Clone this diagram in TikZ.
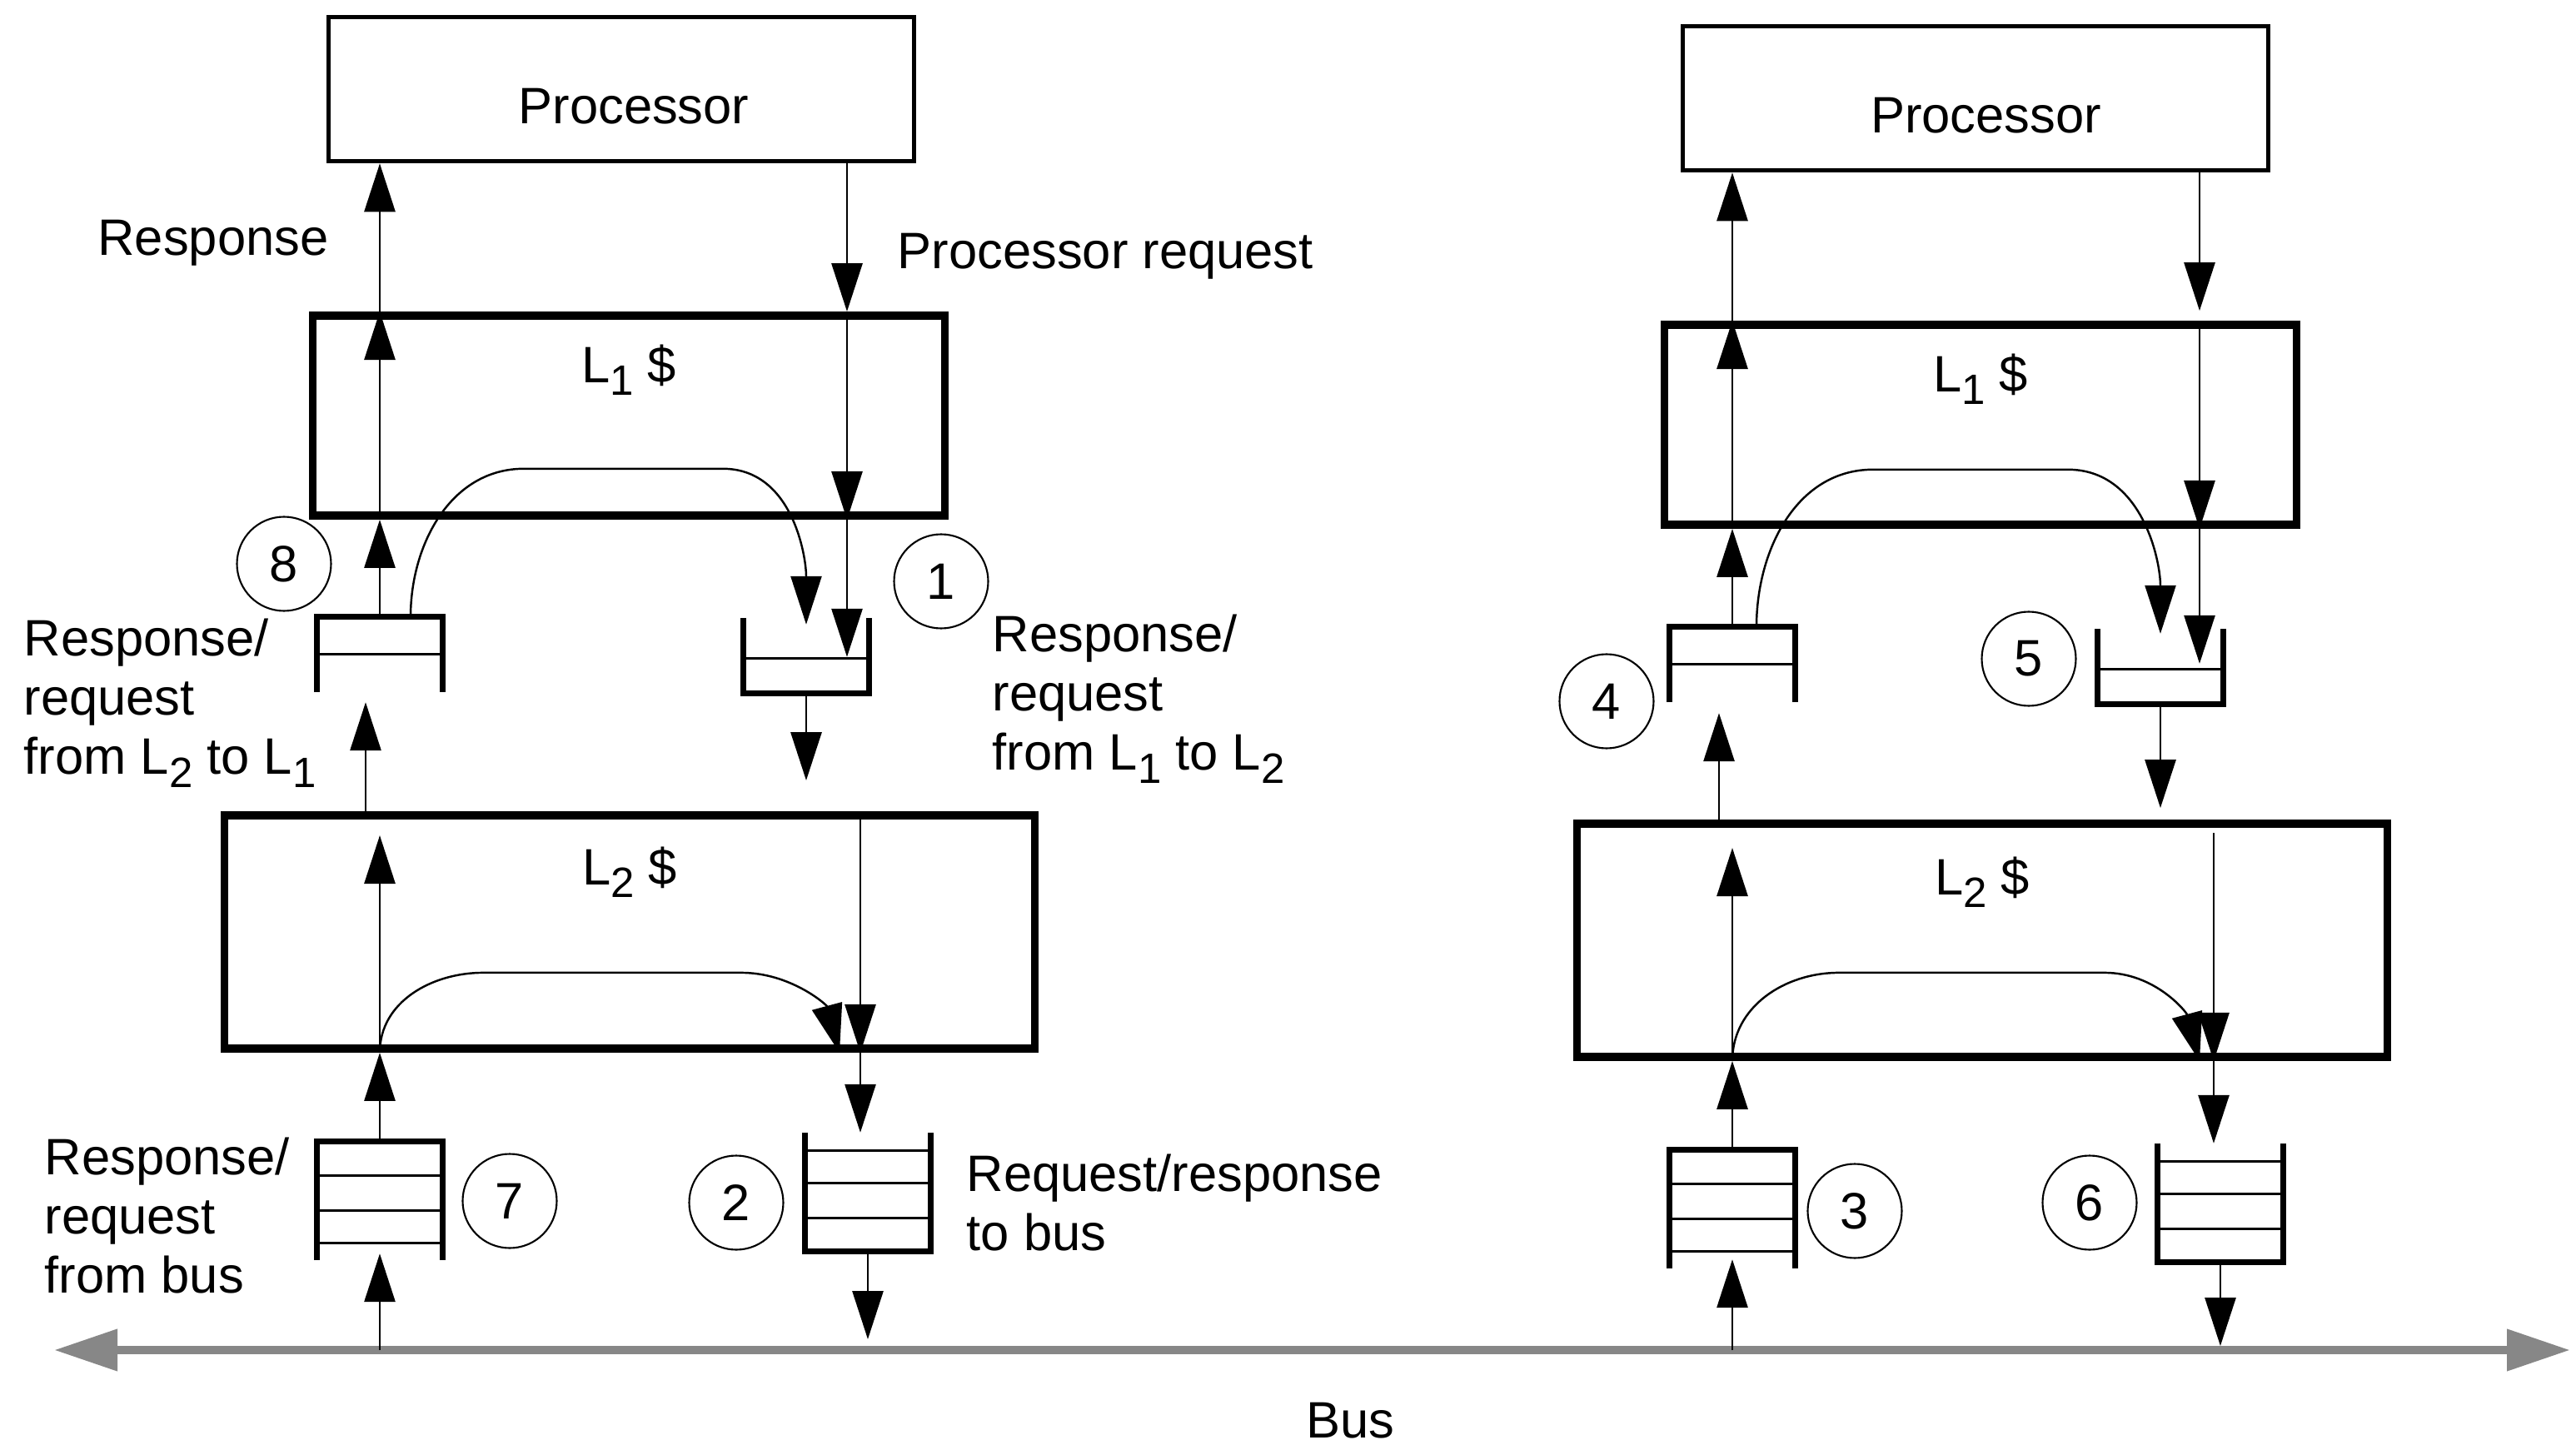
\documentclass[tikz,border=0pt]{standalone}
\usepackage{fontspec}
\setmainfont{Liberation Sans}
\usetikzlibrary{arrows.meta}
\newcommand{\lsub}[1]{\raisebox{-4.4pt}{\fontsize{14.5}{14.5}\selectfont #1}}

\begin{document}
\begin{tikzpicture}[
        font=\fontsize{17.5}{20.2}\selectfont,
        procbox/.style={draw, line width=1.6pt, minimum width=7.03cm, minimum height=1.73cm, text height=0.84cm, text depth=0pt},
        cachebox/.style={draw, line width=2.8pt, inner sep=0pt},
        queue/.style={minimum width=1.50cm, inner sep=0pt},
        slot1/.style={queue, minimum height=0.89cm},
        slot3/.style={queue, minimum height=1.41cm},
        qout/.style={line width=2pt},
        qin/.style={line width=0.9pt},
        num/.style={circle, draw, line width=0.6pt, minimum size=1.13cm, inner sep=0pt},
        txt/.style={inner sep=0pt, align=left},
        line/.style={line width=0.8pt},
        arr/.style={line, -{Triangle[length=5.8mm, width=3.7mm]}},
        carr/.style={line width=0.7pt, -{Triangle[length=5.8mm, width=3.7mm]}},
        busline/.style={line width=3pt, black!47, {Triangle[length=7.6mm, width=4.8mm]}-{Triangle[length=7.6mm, width=4.8mm]}}
    ]
        \useasboundingbox (0,0) rectangle (30.93,-17.35);

        % -- left node: processor and caches --
        \node[procbox] (proc1) at (7.46,-1.07) {\hspace*{0.3cm}Processor};
        \node[cachebox, minimum width=7.59cm, minimum height=2.40cm] (L1a) at (7.55,-4.99) {};
        \node (l1a) at ([yshift=-0.70cm]L1a.north) {L\lsub{1} \$};
        \node[cachebox, minimum width=9.73cm, minimum height=2.80cm] (L2a) at (7.56,-11.19) {};
        \node (l2a) at ([yshift=-0.73cm]L2a.north) {L\lsub{2} \$};

        % -- right node: processor and caches --
        \node[procbox] (proc2) at (23.72,-1.18) {\hspace*{0.25cm}Processor};
        \node[cachebox, minimum width=7.59cm, minimum height=2.40cm] (L1b) at (23.78,-5.10) {};
        \node (l1b) at ([yshift=-0.70cm]L1b.north) {L\lsub{1} \$};
        \node[cachebox, minimum width=9.73cm, minimum height=2.80cm] (L2b) at (23.80,-11.29) {};
        \node (l2b) at ([yshift=-0.75cm]L2b.north) {L\lsub{2} \$};

        % -- queues --
        \node[slot1] (q8) at (4.56,-7.86) {};
        \node[slot1] (q1) at (9.68,-7.87) {};
        \node[slot3] (q7) at (4.56,-14.42) {};
        \node[slot3] (q2) at (10.42,-14.31) {};
        \node[slot1] (q4) at (20.80,-7.98) {};
        \node[slot1] (q5) at (25.94,-8.00) {};
        \node[slot3] (q3) at (20.80,-14.52) {};
        \node[slot3] (q6) at (26.66,-14.44) {};

        % open at the bottom
        \foreach \q in {q8, q7, q4, q3}
            \draw[qout] (\q.south west) -- (\q.north west) -- (\q.north east) -- (\q.south east);
        % open at the top
        \foreach \q in {q1, q2, q5, q6}
            \draw[qout] (\q.north west) -- (\q.south west) -- (\q.south east) -- (\q.north east);
        % slots
        \foreach \q in {q8, q4}
            \draw[qin] ([yshift=-0.45cm]\q.north west) -- ([yshift=-0.45cm]\q.north east);
        \foreach \q in {q1, q5}
            \draw[qin] ([yshift=0.42cm]\q.south west) -- ([yshift=0.42cm]\q.south east);
        \foreach \q in {q7, q3}
            \foreach \dy in {0.41,0.83,1.22}
                \draw[qin] ([yshift=-\dy cm]\q.north west) -- ([yshift=-\dy cm]\q.north east);
        \foreach \q in {q2, q6}
            \foreach \dy in {0.40,0.82,1.21}
                \draw[qin] ([yshift=\dy cm]\q.south west) -- ([yshift=\dy cm]\q.south east);

        % -- step numbers --
        \node[num] (c8) at (3.41,-6.77)   {8};
        \node[num] (c1) at (11.30,-6.98)  {1};
        \node[num] (c7) at (6.12,-14.42)  {7};
        \node[num] (c2) at (8.84,-14.44)  {2};
        \node[num] (c4) at (19.29,-8.42)  {4};
        \node[num] (c5) at (24.36,-7.91)  {5};
        \node[num] (c3) at (22.27,-14.54) {3};
        \node[num] (c6) at (25.09,-14.44) {6};

        % -- labels --
        \node[txt] (resp) at (2.56,-2.92) {Response};
        \node[txt, anchor=west] (preq) at (10.77,-3.08) {Processor request};
        \node[txt, anchor=west] (t21) at (0.28,-8.44) {Response/\\request\\from L\lsub{2} to L\lsub{1}};
        \node[txt, anchor=west] (t12) at (11.91,-8.39) {Response/\\request\\from L\lsub{1} to L\lsub{2}};
        \node[txt, anchor=west] (tfb) at (0.53,-14.60) {Response/\\request\\from bus};
        \node[txt, anchor=west] (ttb) at (11.60,-14.44) {Request/response\\to bus};
        \node[txt] (bustxt) at (16.21,-17.06) {Bus};

        % -- bus --
        \coordinate (busL) at (0.65,-16.21);
        \coordinate (busR) at (30.86,-16.21);
        \draw[busline] (busL) -- (busR);

        % left: responses going up
        \draw[arr] (q8.north) -- (q8.north |- L1a.south);
        \draw[arr] (q8.north |- L1a.south) -- (q8.north |- L1a.north);
        \draw[arr] (q8.north |- L1a.north) -- (q8.north |- proc1.south);
        \draw[arr] ([xshift=-0.17cm]q8.south |- L2a.north) -- ([xshift=-0.17cm, yshift=-0.12cm]q8.south);
        \draw[arr] (q7.north |- L2a.south) -- ([yshift=-0.29cm]q7.north |- L2a.north);
        \draw[arr] (q7.north) -- (q7.north |- L2a.south);
        \draw[arr] (q7.south |- busL) -- ([yshift=0.08cm]q7.south);

        % left: requests going down
        \coordinate (dl) at ([xshift=0.49cm]q1.north);
        \draw[arr] (dl |- proc1.south) -- (dl |- L1a.north);
        \draw[arr] (dl |- L1a.north) -- (dl |- L1a.south);
        \draw[arr] (dl |- L1a.south) -- ([yshift=-0.47cm]dl);
        \draw[arr] (q1.south) -- ([yshift=0.37cm]q1.south |- L2a.north);
        \draw[arr] ([xshift=-0.09cm, yshift=-0.10cm]q2.north |- L2a.north) -- ([xshift=-0.09cm]q2.north |- L2a.south);
        \draw[arr] ([xshift=-0.09cm]q2.north |- L2a.south) -- ([xshift=-0.09cm]q2.north);
        \draw[arr] (q2.south) -- ([yshift=0.13cm]q2.south |- busL);

        % left: turn-around paths
        \draw[carr] ([xshift=0.37cm]q8.north) to[out=90, in=180] ++(1.36,1.78) -- ++(2.39,0)
            to[out=0, in=90] ([yshift=-0.08cm]q1.north);
        \draw[carr] (q7.north |- L2a.south) to[out=90, in=180] ++(1.24,0.96) -- ++(3.10,0)
            to[out=0, in=105] ([xshift=-0.34cm]q2.north |- L2a.south);

        % right: responses going up
        \draw[arr] (q4.north) -- (q4.north |- L1b.south);
        \draw[arr] (q4.north |- L1b.south) -- (q4.north |- L1b.north);
        \draw[arr] (q4.north |- L1b.north) -- (q4.north |- proc2.south);
        \draw[arr] ([xshift=-0.16cm]q4.south |- L2b.north) -- ([xshift=-0.16cm, yshift=-0.13cm]q4.south);
        \draw[arr] (q3.north |- L2b.south) -- ([yshift=-0.34cm]q3.north |- L2b.north);
        \draw[arr] (q3.north) -- (q3.north |- L2b.south);
        \draw[arr] (q3.south |- busL) -- ([yshift=0.11cm]q3.south);

        % right: requests going down
        \coordinate (dr) at ([xshift=0.47cm]q5.north);
        \draw[arr] (dr |- proc2.south) -- ([yshift=0.12cm]dr |- L1b.north);
        \draw[arr] (dr |- L1b.north) -- (dr |- L1b.south);
        \draw[arr] (dr |- L1b.south) -- ([yshift=-0.42cm]dr);
        \draw[arr] (q5.south) -- ([yshift=0.14cm]q5.south |- L2b.north);
        \draw[arr] ([xshift=-0.08cm, yshift=-0.16cm]q6.north |- L2b.north) -- ([xshift=-0.08cm]q6.north |- L2b.south);
        \draw[arr] ([xshift=-0.08cm]q6.north |- L2b.south) -- ([xshift=-0.08cm]q6.north);
        \draw[arr] (q6.south) -- ([yshift=0.05cm]q6.south |- busL);

        % right: turn-around paths
        \draw[carr] ([xshift=0.29cm]q4.north) to[out=90, in=180] ++(1.40,1.89) -- ++(2.34,0)
            to[out=0, in=90] ([yshift=-0.06cm]q5.north);
        \draw[carr] (q3.north |- L2b.south) to[out=90, in=180] ++(1.28,1.06) -- ++(3.19,0)
            to[out=0, in=105] ([xshift=-0.25cm]q6.north |- L2b.south);
    \end{tikzpicture}
\end{document}
